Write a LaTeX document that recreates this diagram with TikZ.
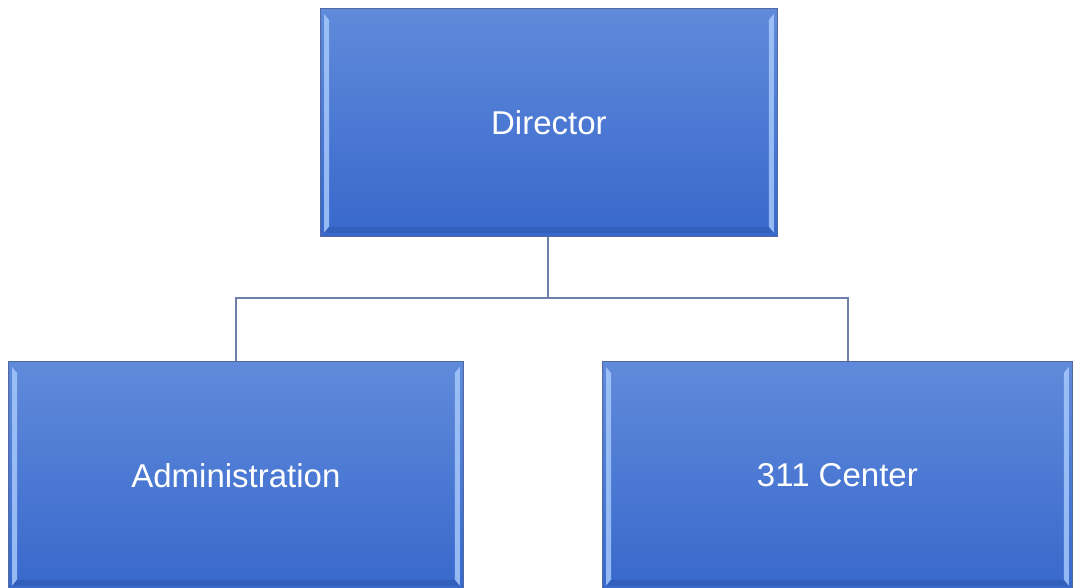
\documentclass[tikz,border=0pt]{standalone}
\usepackage{fontspec}
\setmainfont{Liberation Sans}
\begin{document}
\begin{tikzpicture}[x=1pt,y=-1pt,
  unitbox/.style={draw=boxedge,line width=0.8pt,top color=boxtop,bottom color=boxbottom,inner sep=0pt},
  unitlabel/.style={text=white,font=\fontsize{33}{38}\selectfont},
  link/.style={draw=linkcol,line width=1.6pt}]
\definecolor{boxtop}{RGB}{96,138,218}
\definecolor{boxbottom}{RGB}{56,104,204}
\definecolor{boxedge}{RGB}{80,105,160}
\definecolor{linkcol}{RGB}{110,128,170}
\definecolor{bevlight}{RGB}{165,200,250}
\definecolor{bevdark}{RGB}{45,85,175}
\useasboundingbox (0,0) rectangle (1078,588);
\fill[white] (0,0) rectangle (1078,588);
% the three units
\node[unitbox,minimum width=457,minimum height=228,anchor=north west] (dir) at (320,8) {};
\node[unitbox,minimum width=455,minimum height=228,anchor=north west] (adm) at (8,361) {};
\node[unitbox,minimum width=470,minimum height=228,anchor=north west] (ctr) at (602,361) {};
% bevel strips on each box
\foreach \b in {dir,adm,ctr}{
  \fill[bevlight,opacity=0.85] ([shift={(4,6)}]\b.north west) -- ([shift={(9,12)}]\b.north west)
     -- ([shift={(9,-10)}]\b.south west) -- ([shift={(4,-4)}]\b.south west) -- cycle;
  \fill[bevlight,opacity=0.85] ([shift={(-4,6)}]\b.north east) -- ([shift={(-9,12)}]\b.north east)
     -- ([shift={(-9,-10)}]\b.south east) -- ([shift={(-4,-4)}]\b.south east) -- cycle;
  \fill[bevdark,opacity=0.55] ([shift={(4,-4)}]\b.south west) -- ([shift={(9,-10)}]\b.south west)
     -- ([shift={(-9,-10)}]\b.south east) -- ([shift={(-4,-4)}]\b.south east) -- cycle;
}
\node[unitlabel] (dirtext) at (dir.center) {Director};
\node[unitlabel] (admtext) at (adm.center) {Administration};
\node[unitlabel] (ctrtext) at (ctr.center) {311 Center};
% connectors
\coordinate (bus) at (548,298);
\draw[link] (dir.south -| bus) -- (bus);
\draw[link] (adm.north -| 236,0) |- (bus) -| (ctr.north -| 848,0);
\end{tikzpicture}
\end{document}
